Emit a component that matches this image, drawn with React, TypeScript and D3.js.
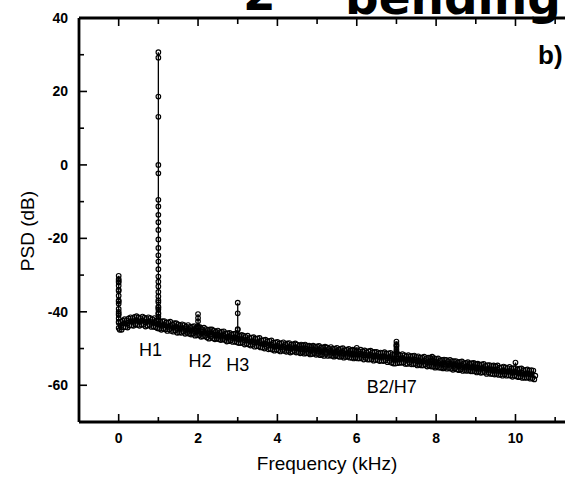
import React from 'react';
import * as d3 from 'd3';

// ---------- data ----------
const bandStep = 0.025; // kHz spacing of the PSD samples (0 … 10.5 kHz)
const psdBand = [
  // 0.000 - 0.475
  -43.0, -44.9, -42.7, -44.9, -42.4, -44.2, -42.0, -44.2, -42.3, -44.3,
  -41.8, -43.7, -41.5, -43.7, -41.7, -43.8, -41.4, -43.4, -41.2, -43.6,
  // 0.500 - 0.975
  -41.5, -43.8, -41.7, -43.5, -41.3, -43.5, -41.6, -44.0, -41.9, -43.8,
  -41.5, -43.6, -41.7, -44.1, -42.0, -44.0, -41.7, -44.2, -42.4, -44.5,
  // 1.000 - 1.475
  -42.4, -44.6, -42.7, -44.9, -42.5, -44.6, -42.5, -44.8, -42.9, -45.2,
  -42.9, -44.8, -42.7, -45.2, -43.4, -45.4, -43.1, -45.1, -43.1, -45.7,
  // 1.500 - 1.975
  -43.4, -45.6, -43.6, -45.7, -43.4, -45.4, -43.6, -46.0, -44.0, -45.8,
  -43.6, -46.0, -44.1, -46.2, -44.0, -46.0, -43.9, -46.5, -44.4, -46.4,
  // 2.000 - 2.475
  -44.2, -46.4, -44.2, -46.8, -44.7, -46.7, -44.3, -46.6, -44.7, -47.0,
  -44.9, -47.3, -44.8, -46.8, -44.8, -47.2, -45.1, -47.5, -45.4, -47.3,
  // 2.500 - 2.975
  -45.1, -47.5, -45.5, -47.7, -45.4, -47.5, -45.3, -47.7, -45.9, -48.1,
  -45.8, -48.0, -45.7, -47.8, -46.1, -48.2, -46.0, -48.1, -45.9, -48.3,
  // 3.000 - 3.475
  -46.2, -48.5, -46.5, -48.5, -46.3, -48.4, -46.5, -48.9, -46.8, -48.7,
  -46.5, -48.9, -47.1, -49.2, -47.0, -49.0, -46.9, -49.5, -47.3, -49.4,
  // 3.500 - 3.975
  -47.2, -49.4, -47.1, -49.7, -47.8, -49.7, -47.7, -50.0, -47.6, -49.6,
  -48.0, -50.2, -47.9, -50.1, -47.8, -50.3, -48.4, -50.6, -48.3, -50.3,
  // 4.000 - 4.475
  -48.2, -50.5, -48.6, -50.8, -48.5, -50.4, -48.3, -50.7, -48.8, -50.9,
  -48.6, -50.7, -48.5, -51.1, -48.9, -50.9, -48.8, -50.7, -48.6, -51.1,
  // 4.500 - 4.975
  -48.9, -51.0, -49.2, -51.3, -48.9, -51.0, -49.1, -51.4, -48.9, -51.3,
  -49.3, -51.3, -49.2, -51.6, -49.5, -51.5, -49.2, -51.3, -49.5, -51.7,
  // 5.000 - 5.475
  -49.4, -51.5, -49.3, -51.8, -49.7, -51.7, -49.7, -52.0, -49.5, -51.5,
  -49.7, -52.0, -50.0, -51.8, -49.6, -52.0, -50.0, -52.2, -50.0, -51.9,
  // 5.500 - 5.975
  -49.8, -52.1, -50.2, -52.3, -50.0, -52.1, -49.9, -52.5, -50.4, -52.3,
  -50.3, -52.2, -50.1, -52.5, -50.5, -52.5, -50.3, -52.7, -50.5, -52.5,
  // 6.000 - 6.475
  -50.4, -52.7, -50.7, -52.7, -50.3, -52.6, -50.7, -53.0, -50.5, -52.6,
  -51.0, -53.0, -50.7, -53.0, -50.6, -52.9, -51.0, -53.3, -50.9, -53.1,
  // 6.500 - 6.975
  -50.9, -53.1, -51.3, -53.4, -51.1, -53.3, -51.2, -53.4, -51.0, -53.2,
  -51.4, -53.7, -51.3, -53.4, -51.2, -53.9, -51.7, -54.1, -51.6, -54.1,
  // 7.000 - 7.475
  -51.6, -54.0, -51.6, -53.9, -51.8, -53.9, -51.5, -53.8, -51.8, -54.2,
  -52.1, -54.2, -51.8, -53.9, -52.1, -54.3, -52.0, -54.3, -51.9, -54.2,
  // 7.500 - 7.975
  -52.3, -54.6, -52.1, -54.4, -52.5, -54.6, -52.4, -54.6, -52.2, -54.4,
  -52.8, -54.9, -52.5, -54.7, -52.5, -54.9, -52.8, -54.9, -52.6, -55.2,
  // 8.000 - 8.475
  -52.8, -54.9, -52.7, -55.2, -53.2, -55.2, -53.1, -55.4, -53.0, -55.1,
  -53.1, -55.5, -53.4, -55.3, -53.1, -55.5, -53.4, -55.8, -53.4, -55.4,
  // 8.500 - 8.975
  -53.4, -55.7, -53.7, -55.9, -53.6, -55.7, -53.5, -56.1, -54.0, -55.9,
  -53.9, -56.1, -53.7, -55.9, -54.1, -56.2, -54.0, -56.2, -53.9, -56.2,
  // 9.000 - 9.475
  -54.2, -56.5, -54.1, -56.3, -54.4, -56.6, -54.3, -56.5, -54.2, -56.4,
  -54.7, -56.9, -54.5, -56.6, -54.5, -56.9, -54.7, -56.9, -54.6, -57.1,
  // 9.500 - 9.975
  -54.8, -56.9, -54.6, -57.2, -55.2, -57.1, -55.1, -57.4, -54.9, -57.0,
  -55.1, -57.4, -55.3, -57.3, -55.0, -57.4, -55.4, -57.7, -55.3, -57.4,
  // 10.000 - 10.500
  -55.3, -57.6, -55.7, -57.8, -55.5, -57.7, -55.4, -58.0, -55.9, -57.9,
  -55.8, -58.0, -55.7, -57.8, -56.0, -58.2, -55.9, -58.1, -56.0, -58.4,
  -57.4,
];

const spikeFreqs = [0, 1, 2, 3, 6, 7, 7.9, 10];
const spikeValues = [
  [-42.7, -41.8, -40.9, -40.0, -39.2, -37.8, -36.9, -35.6, -34.3, -32.9, -32.0, -31.1, -30.2, -31.6, -34.0, -37.2, -40.5, -44.4],
  [-42.5, -41.3, -40.3, -39.4, -38.6, -37.4, -35.8, -33.1, -30.4, -26.3, -22.6, -17.7, -13.6, -9.5, 0.0, 18.6, 30.7,
   29.2, 13.1, -2.3, -11.3, -15.6, -20.3, -24.6, -28.4, -31.8, -34.6, -36.9, -38.9, -40.6, -42.0],
  [-44.4, -42.6, -40.6, -41.7, -44.0],
  [-44.7, -40.4, -37.5, -44.9],
  [-49.8],
  [-51.7, -51.0, -50.2, -49.5, -48.8, -48.1, -49.2, -50.8, -52.3],
  [-52.2],
  [-53.8],
];

const xMajorTicks = [0, 2, 4, 6, 8, 10];
const xMinorTicks = [1, 3, 5, 7, 9, 11];
const yMajorTicks = [-60, -40, -20, 0, 20, 40];
const yMinorTicks = [-50, -30, -10, 10, 30];

const annotationLabels = ['H1', 'H2', 'H3', 'B2/H7'];
const annotationFreqs = [0.8, 2.05, 3.0, 6.88];
const annotationPSD = [-52.0, -55.0, -56.1, -62.1];

// ---------- layout ----------
const W = 565;
const H = 480;
const left = 79, right = 575, top = 18, bottom = 422;

export default function App() {
  const x = d3.scaleLinear().domain([-1, 11.5]).range([left, right]);
  const y = d3.scaleLinear().domain([-70, 40]).range([bottom, top]);

  const series: { f: number; v: number }[] = [];
  psdBand.forEach((v, i) => {
    const f = +(i * bandStep).toFixed(3);
    series.push({ f, v });
    spikeFreqs.forEach((sf, k) => {
      if (Math.abs(sf - f) < 1e-6) spikeValues[k].forEach((sv) => series.push({ f, v: sv }));
    });
  });

  const line = d3
    .line<{ f: number; v: number }>()
    .x((d) => x(d.f))
    .y((d) => y(d.v));

  const tickFont = { fontFamily: 'Liberation Sans, Arial, sans-serif', fontSize: 14, fontWeight: 700 };
  const titleFont = { fontFamily: 'Liberation Sans, Arial, sans-serif', fontSize: 19 };

  return (
    <svg width={W} height={H} style={{ position: 'absolute', left: 0, top: 0, display: 'block', background: '#fff' }}>
      <rect x={0} y={0} width={W} height={H} fill="#fff" />
      {/* header (cut off by the top edge, as in the scan) */}
      <text x={243} y={10} fontFamily="DejaVu Sans, sans-serif" fontWeight={700} fontSize={47} fill="#000">2</text>
      <text x={345} y={14} fontFamily="DejaVu Sans, sans-serif" fontWeight={700} fontSize={47} fill="#000">bending</text>
      <text x={538} y={64} fontFamily="Liberation Sans, Arial, sans-serif" fontWeight={700} fontSize={26} fill="#000">b)</text>

      {/* data */}
      <path d={line(series) || ''} fill="none" stroke="#000" strokeWidth={1.3} />
      {series.map((d, i) => (
        <circle key={i} cx={x(d.f)} cy={y(d.v)} r={2.3} fill="none" stroke="#000" strokeWidth={1.15} />
      ))}

      {/* frame */}
      <line x1={left} y1={bottom} x2={right} y2={bottom} stroke="#000" strokeWidth={2.8} />
      <line x1={left} y1={top} x2={right} y2={top} stroke="#000" strokeWidth={2.8} />
      <line x1={left} y1={top} x2={left} y2={bottom} stroke="#000" strokeWidth={2.8} />
      <line x1={right} y1={top} x2={right} y2={bottom} stroke="#000" strokeWidth={2.8} />

      {/* x ticks */}
      {xMajorTicks.map((t) => (
        <g key={'xm' + t}>
          <line x1={x(t)} x2={x(t)} y1={bottom} y2={bottom - 8} stroke="#000" strokeWidth={1.6} />
          <line x1={x(t)} x2={x(t)} y1={top} y2={top + 8} stroke="#000" strokeWidth={1.6} />
          <text x={x(t)} y={443} textAnchor="middle" {...tickFont}>{t}</text>
        </g>
      ))}
      {xMinorTicks.map((t) => (
        <g key={'xn' + t}>
          <line x1={x(t)} x2={x(t)} y1={bottom} y2={bottom - 5} stroke="#000" strokeWidth={1.6} />
          <line x1={x(t)} x2={x(t)} y1={top} y2={top + 6} stroke="#000" strokeWidth={1.6} />
        </g>
      ))}

      {/* y ticks */}
      {yMajorTicks.map((t) => (
        <g key={'ym' + t}>
          <line x1={left} x2={left + 8} y1={y(t)} y2={y(t)} stroke="#000" strokeWidth={1.6} />
          <text x={68} y={y(t)} dy="0.35em" textAnchor="end" {...tickFont}>{t}</text>
        </g>
      ))}
      {yMinorTicks.map((t) => (
        <line key={'yn' + t} x1={left} x2={left + 5} y1={y(t)} y2={y(t)} stroke="#000" strokeWidth={1.6} />
      ))}

      {/* axis titles */}
      <text x={327} y={470} textAnchor="middle" {...titleFont}>Frequency (kHz)</text>
      <text transform="translate(34,231) rotate(-90)" textAnchor="middle" {...titleFont}>PSD (dB)</text>

      {/* annotations */}
      {annotationLabels.map((lab, i) => (
        <text key={lab} x={x(annotationFreqs[i])} y={y(annotationPSD[i])} textAnchor="middle"
          fontFamily="Liberation Sans, Arial, sans-serif" fontSize={18}>{lab}</text>
      ))}
    </svg>
  );
}
